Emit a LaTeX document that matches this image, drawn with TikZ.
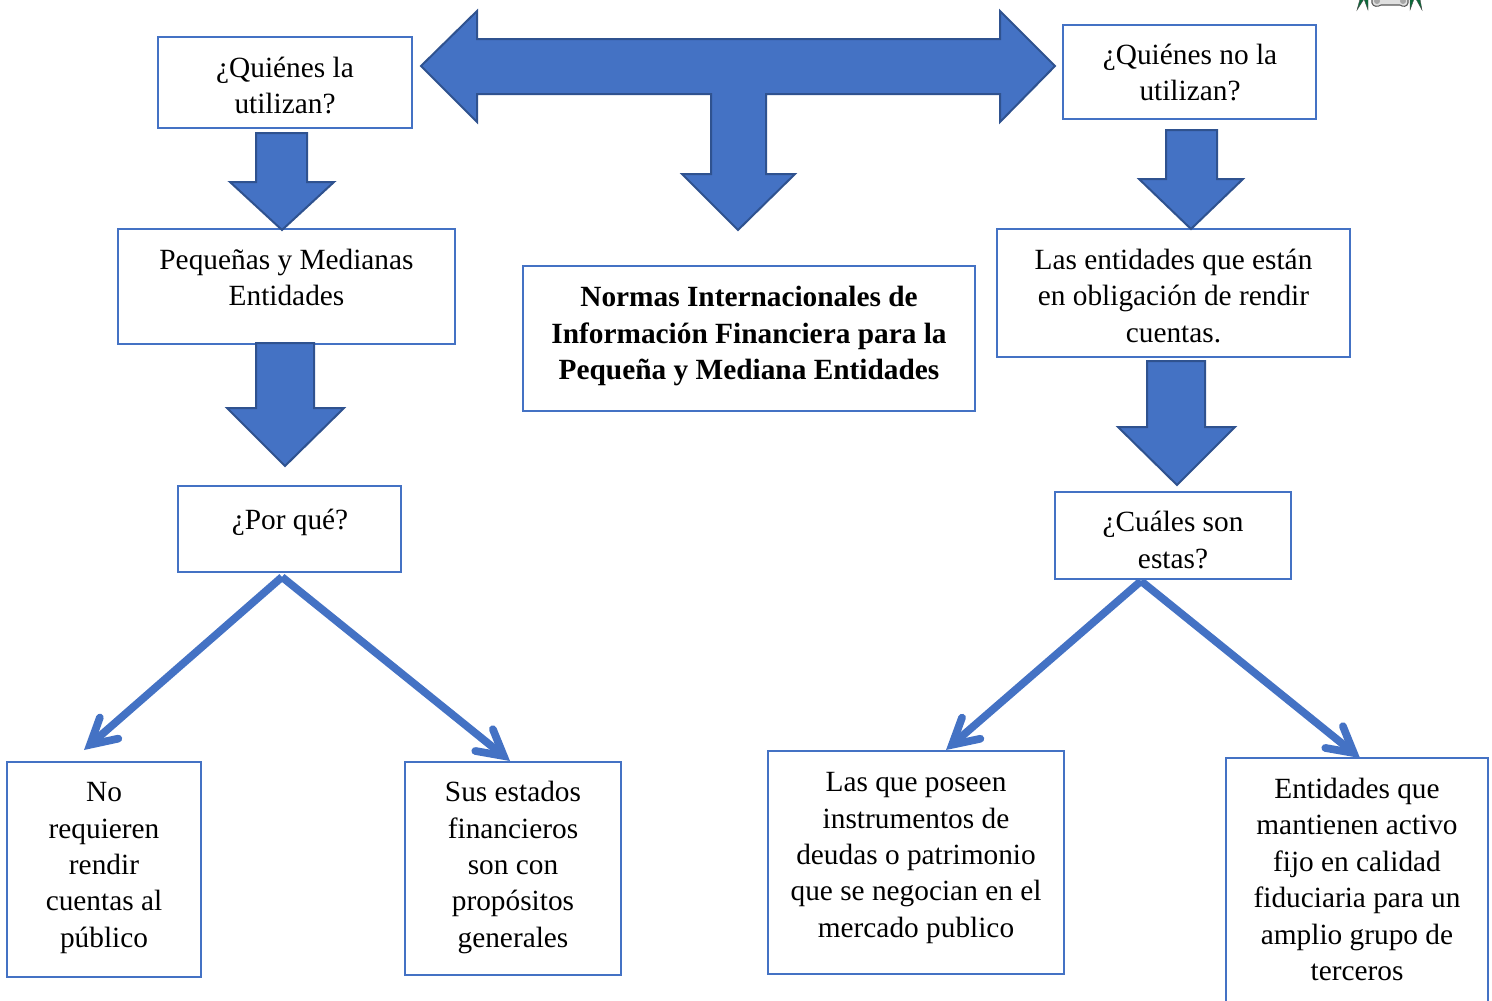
\documentclass[tikz,border=0pt]{standalone}
\usepackage{fontspec}
\setmainfont{Liberation Serif}
\usetikzlibrary{arrows.meta}
\definecolor{boxblue}{HTML}{4472C4}
\definecolor{edgeblue}{HTML}{2F528F}
\definecolor{leafgreen}{HTML}{0B6B3A}
\tikzset{
  box/.style={draw=boxblue,line width=2pt,fill=white,inner sep=0pt,outer sep=0pt,anchor=north west},
  txt/.style={align=center,inner sep=0pt,font=\fontsize{22}{27.35}\selectfont},
  block/.style={fill=boxblue,draw=edgeblue,line width=1.5pt,line join=miter},
  thin arrow/.style={draw=boxblue,line width=5.8pt,-{Straight Barb[length=19pt,width=21pt,line width=5.8pt,line cap=round,line join=miter]}},
  leaf/.style={fill=leafgreen,draw=black!70,line width=.3pt},
  scroll/.style={fill=black!12,draw=black!65,line width=.8pt}
}
\newcommand{\pxbox}[5]{\node[box,minimum width=#4*0.75pt,minimum height=#5*0.75pt] (#1) at (#2,#3) {};}
\newcommand{\blockdown}[8]{\draw[block] (#1,#3) -- (#2,#3) -- (#2,#6) -- (#5,#6) -- (#7,#8) -- (#4,#6) -- (#1,#6) -- cycle;}
\begin{document}
\begin{tikzpicture}[x=0.75pt,y=-0.75pt]
\useasboundingbox (0,0) rectangle (1492,1000);
\clip (0,0) rectangle (1492,1000);
% logo fragment
\foreach \a/\c/\e in {1357/1360/1364,1368/1364/1368,1410/1410/1414,1422/1416/1420}{
  \draw[leaf] (\a,10) -- (\c,-1) -- (\e,-1) -- cycle;
}
\draw[scroll] (1372,-2) -- (1372,3) .. controls (1373,7) and (1378,7) .. (1381,5) -- (1400,5) .. controls (1403,7) and (1407,7) .. (1408,3) -- (1408,-2) -- cycle;
\fill[black!35] (1377,1) circle (3) (1403,1) circle (3);
% boxes
\pxbox{qla}{158}{37}{254}{91}
\pxbox{qno}{1063}{25}{253}{94}
\pxbox{peq}{118}{229}{337}{115}
\pxbox{ent}{997}{229}{353}{128}
\pxbox{norm}{523}{266}{452}{145}
\pxbox{por}{178}{486}{223}{86}
\pxbox{cual}{1055}{492}{236}{87}
\pxbox{nor}{7}{762}{194}{215}
\pxbox{sus}{405}{762}{216}{213}
\pxbox{las}{768}{751}{296}{223}
\pxbox{enti}{1226}{758}{262}{270}
% texts
\node[txt] (qlat) at (285,85.5) {¿Quiénes la\\utilizan?};
\node[txt] (qnot) at (1190,72.5) {¿Quiénes no la\\utilizan?};
\node[txt] (peqt) at (286.5,277.5) {Pequeñas y Medianas\\Entidades};
\node[txt] (entt) at (1173.5,296) {Las entidades que están\\en obligación de rendir\\cuentas.};
\node[txt,font=\fontsize{22}{27.35}\selectfont\bfseries] (normt) at (749,336) {Normas Internacionales de\\Información Financiera para la\\Pequeña y Mediana Entidades};
\node[txt] (port) at (290,522) {¿Por qué?};
\node[txt] (cualt) at (1173,540) {¿Cuáles son\\estas?};
\node[txt] (nort) at (104,868) {No\\requieren\\rendir\\cuentas al\\público};
\node[txt] (sust) at (513,867.5) {Sus estados\\financieros\\son con\\propósitos\\generales};
\node[txt] (last) at (916,858) {Las que poseen\\instrumentos de\\deudas o patrimonio\\que se negocian en el\\mercado publico};
\node[txt] (entit) at (1357,879.5) {Entidades que\\mantienen activo\\fijo en calidad\\fiduciaria para un\\amplio grupo de\\terceros};
% central arrow
\draw[block] (421,66) -- (477,11) -- (477,39) -- (1000,39) -- (1000,11) -- (1055,66) -- (1000,122) -- (1000,94) -- (766,94) -- (766,174) -- (795,174) -- (738,230) -- (682,174) -- (711,174) -- (711,94) -- (477,94) -- (477,122) -- cycle;
% block arrows
\blockdown{256}{307}{133}{230}{334}{182}{282}{230}
\blockdown{256}{314}{343}{227}{344}{408}{285}{466}
\blockdown{1166}{1217}{130}{1139}{1243}{179}{1191}{229}
\blockdown{1147}{1205}{361}{1118}{1235}{427}{1177}{485}
% thin connectors
\coordinate (porfoot) at (282,577);
\coordinate (cualfoot) at (1141,581);
\coordinate (norend) at (84,750);
\coordinate (susend) at (510,761);
\coordinate (lasend) at (946,750);
\coordinate (entiend) at (1360,758);
\draw[thin arrow] (porfoot) -- (norend);
\draw[thin arrow] (porfoot) -- (susend);
\draw[thin arrow] (cualfoot) -- (lasend);
\draw[thin arrow] (cualfoot) -- (entiend);
\end{tikzpicture}
\end{document}
